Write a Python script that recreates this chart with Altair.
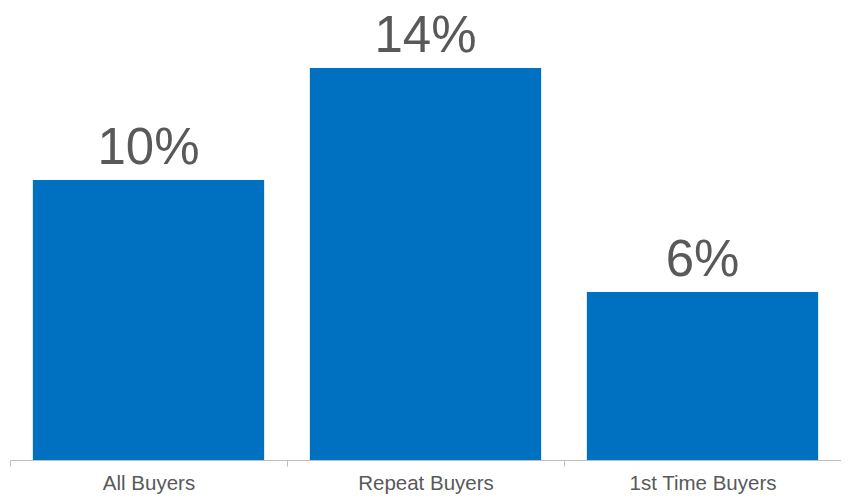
import altair as alt
import pandas as pd

categories = ["All Buyers", "Repeat Buyers", "1st Time Buyers"]
values = [10, 14, 6]
labels = ["10%", "14%", "6%"]

df = pd.DataFrame({"cat": categories, "val": values, "lab": labels})

FONT = "Liberation Sans"

x = alt.X(
    "cat:N",
    sort=categories,
    title=None,
    scale=alt.Scale(paddingInner=0, paddingOuter=0),
    axis=alt.Axis(
        labelAngle=0,
        labelFont=FONT,
        labelFontSize=20.5,
        labelColor="#595959",
        labelBaseline="alphabetic",
        labelPadding=23,
        domainColor="#BFBFBF",
        tickColor="#BFBFBF",
        tickSize=6,
        tickBand="extent",
        ticks=True,
    ),
)
y = alt.Y("val:Q", title=None, scale=alt.Scale(domain=[0, 16.14], nice=False), axis=None)

bars = alt.Chart(df).mark_bar(color="#0070C0", width=alt.RelativeBandSize(0.835)).encode(x=x, y=y)
text = alt.Chart(df).mark_text(
    font=FONT, fontSize=51, color="#595959", baseline="alphabetic", dy=-16
).encode(x=x, y=y, text="lab:N")

chart = (
    alt.layer(bars, text)
    .properties(
        width=831,
        height=452,
        padding={"left": 2, "top": 0, "right": 0, "bottom": 36},
        autosize=alt.AutoSizeParams(type="none"),
    )
    .configure_view(stroke=None)
)

chart.save("out.html", embed_options={"renderer": "svg", "actions": False})
